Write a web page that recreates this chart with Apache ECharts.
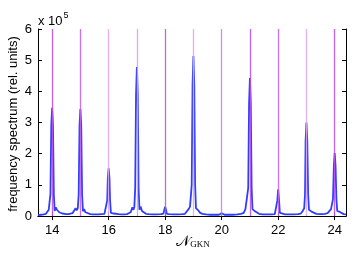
<!DOCTYPE html>
<html><head><meta charset="utf-8">
<script src="https://cdn.jsdelivr.net/npm/echarts@6/dist/echarts.min.js"></script>
<style>html,body{margin:0;padding:0;background:#fff}#c{width:354px;height:255px}</style>
</head><body><div id="c"></div>
<script>
// x tick labels
const xTicks = [14, 16, 18, 20, 22, 24];
const yTicks = [0, 1, 2, 3, 4, 5, 6];
// integer marker lines
const markerX = [14, 15, 16, 17, 18, 19, 20, 21, 22, 23, 24];
// spectrum (x = N_GKN, y = 1e5 rel. units)
const specX = [13.50,13.60,13.70,13.78,13.84,13.88,13.91,13.94,13.97,14.00,14.03,14.06,14.09,14.13,14.17,14.21,14.25,14.30,14.36,14.42,14.50,14.58,14.65,14.72,14.78,14.83,14.87,14.91,14.94,14.97,15.00,15.03,15.06,15.09,15.13,15.18,15.25,15.35,15.45,15.55,15.65,15.75,15.85,15.92,15.95,15.97,16.00,16.03,16.05,16.08,16.13,16.18,16.25,16.35,16.45,16.55,16.65,16.72,16.78,16.84,16.88,16.91,16.94,16.97,17.00,17.03,17.06,17.09,17.13,17.18,17.24,17.32,17.42,17.55,17.70,17.85,17.94,17.97,18.00,18.03,18.06,18.15,18.30,18.45,18.60,18.70,18.77,18.83,18.88,18.91,18.94,18.97,19.00,19.03,19.06,19.09,19.13,19.18,19.24,19.32,19.45,19.60,19.75,19.90,19.97,20.00,20.03,20.10,20.25,20.40,20.55,20.68,20.78,20.84,20.88,20.91,20.94,20.97,21.00,21.03,21.06,21.09,21.13,21.18,21.24,21.32,21.45,21.60,21.75,21.88,21.94,21.97,22.00,22.03,22.06,22.12,22.25,22.40,22.55,22.70,22.80,22.86,22.90,22.92,22.95,22.97,23.00,23.03,23.06,23.09,23.13,23.18,23.25,23.35,23.45,23.55,23.65,23.75,23.82,23.87,23.91,23.94,23.97,24.00,24.03,24.06,24.09,24.13,24.18,24.25,24.32,24.40];
const specY = [0.03,0.04,0.05,0.07,0.12,0.20,0.14,0.70,2.90,3.47,2.90,0.70,0.16,0.28,0.20,0.16,0.12,0.10,0.08,0.07,0.06,0.06,0.07,0.09,0.13,0.25,0.18,0.25,0.70,2.90,3.43,2.90,0.70,0.15,0.22,0.12,0.08,0.06,0.05,0.05,0.05,0.06,0.07,0.10,0.50,1.20,1.53,1.20,0.50,0.10,0.14,0.08,0.07,0.06,0.05,0.05,0.06,0.08,0.12,0.28,0.20,0.30,0.90,3.90,4.78,3.90,0.90,0.20,0.30,0.16,0.10,0.07,0.06,0.05,0.05,0.06,0.08,0.20,0.30,0.20,0.07,0.06,0.05,0.05,0.06,0.07,0.10,0.22,0.30,0.28,1.00,4.20,5.13,4.20,1.00,0.25,0.30,0.17,0.10,0.07,0.05,0.04,0.04,0.04,0.06,0.09,0.06,0.04,0.04,0.04,0.05,0.07,0.10,0.22,0.28,0.25,0.90,3.60,4.43,3.60,0.90,0.22,0.28,0.15,0.10,0.07,0.05,0.05,0.05,0.06,0.10,0.50,0.86,0.50,0.10,0.06,0.05,0.05,0.05,0.06,0.08,0.15,0.20,0.25,0.70,2.40,3.00,2.40,0.70,0.20,0.25,0.14,0.09,0.07,0.06,0.06,0.07,0.09,0.13,0.22,0.20,0.55,1.60,2.02,1.60,0.55,0.16,0.22,0.13,0.08,0.06,0.05];
// marker line colours (style only)
const markerColors = ['#c050f0','#c860f0','#dcaaf2','#d8a0f0','#a860d8','#dcaaf2','#d080f0','#c050f0','#c860f0','#dcaaf2','#c050f0'];

const chart = echarts.init(document.getElementById('c'), null, {renderer: 'canvas'});
const font = 'Liberation Sans, Arial, Helvetica, sans-serif';
const X0 = 13.5, X1 = 24.4;
const axisCommon = {
  axisLine: {show: true, lineStyle: {color: '#000', width: 1}},
  splitLine: {show: false}
};
chart.setOption({
  animation: false,
  grid: {left: 38, right: 8, top: 29, bottom: 39, containLabel: false},
  xAxis: [
    Object.assign({type: 'value', min: X0, max: X1, position: 'bottom',
      axisTick: {inside: true, length: 4, lineStyle: {color: '#000'}, customValues: xTicks},
      axisLabel: {color: '#000', fontSize: 13, fontFamily: font, margin: 8, customValues: xTicks, formatter: v => String(v)}}, axisCommon),
    Object.assign({type: 'value', min: X0, max: X1, position: 'top',
      axisTick: {inside: true, length: 4, lineStyle: {color: '#000'}, customValues: xTicks},
      axisLabel: {show: false}}, axisCommon)
  ],
  yAxis: [
    Object.assign({type: 'value', min: 0, max: 6, interval: 1, position: 'left',
      axisTick: {inside: true, length: 4, lineStyle: {color: '#000'}},
      axisLabel: {color: '#000', fontSize: 13, fontFamily: font, margin: 6}}, axisCommon),
    Object.assign({type: 'value', min: 0, max: 6, interval: 1, position: 'right',
      axisTick: {inside: true, length: 4, lineStyle: {color: '#000'}},
      axisLabel: {show: false}}, axisCommon)
  ],
  series: [
    {
      type: 'line', xAxisIndex: 0, yAxisIndex: 0, showSymbol: false, z: 2,
      data: specX.map((x, i) => [x, specY[i]]),
      lineStyle: {color: '#2f3dff', width: 1.8}
    },
    {
      type: 'line', xAxisIndex: 0, yAxisIndex: 0, showSymbol: false, z: 3, data: [],
      markLine: {
        silent: true, symbol: 'none', label: {show: false},
        data: markerX.map((x, i) => ({xAxis: x, lineStyle: {color: markerColors[i], width: 1.3, type: 'solid', opacity: 0.9}}))
      }
    }
  ],
  graphic: [
    {type: 'text', left: 38, top: 11, style: {
      text: '{a|x 10}{b|5}', rich: {
        a: {fontSize: 13, fontFamily: font, fill: '#000', verticalAlign: 'bottom'},
        b: {fontSize: 9, fontFamily: font, fill: '#000', verticalAlign: 'top', padding: [0,0,8,1]}
      }}},
    {type: 'text', x: 13, y: 124, rotation: Math.PI / 2, style: {
      text: 'frequency spectrum (rel. units)', fontSize: 13, fontFamily: font, fill: '#000',
      align: 'center', verticalAlign: 'middle'}},
    {type: 'text', x: 193, y: 242, style: {
      text: '{n|𝒩}{s|GKN}', align: 'center', verticalAlign: 'middle', rich: {
        n: {fontSize: 15, fontFamily: 'DejaVu Serif, serif', fill: '#000'},
        s: {fontSize: 9, fontFamily: 'Liberation Serif, Times New Roman, serif', fill: '#000', padding: [6,0,0,0]}
      }}}
  ]
});
</script></body></html>
